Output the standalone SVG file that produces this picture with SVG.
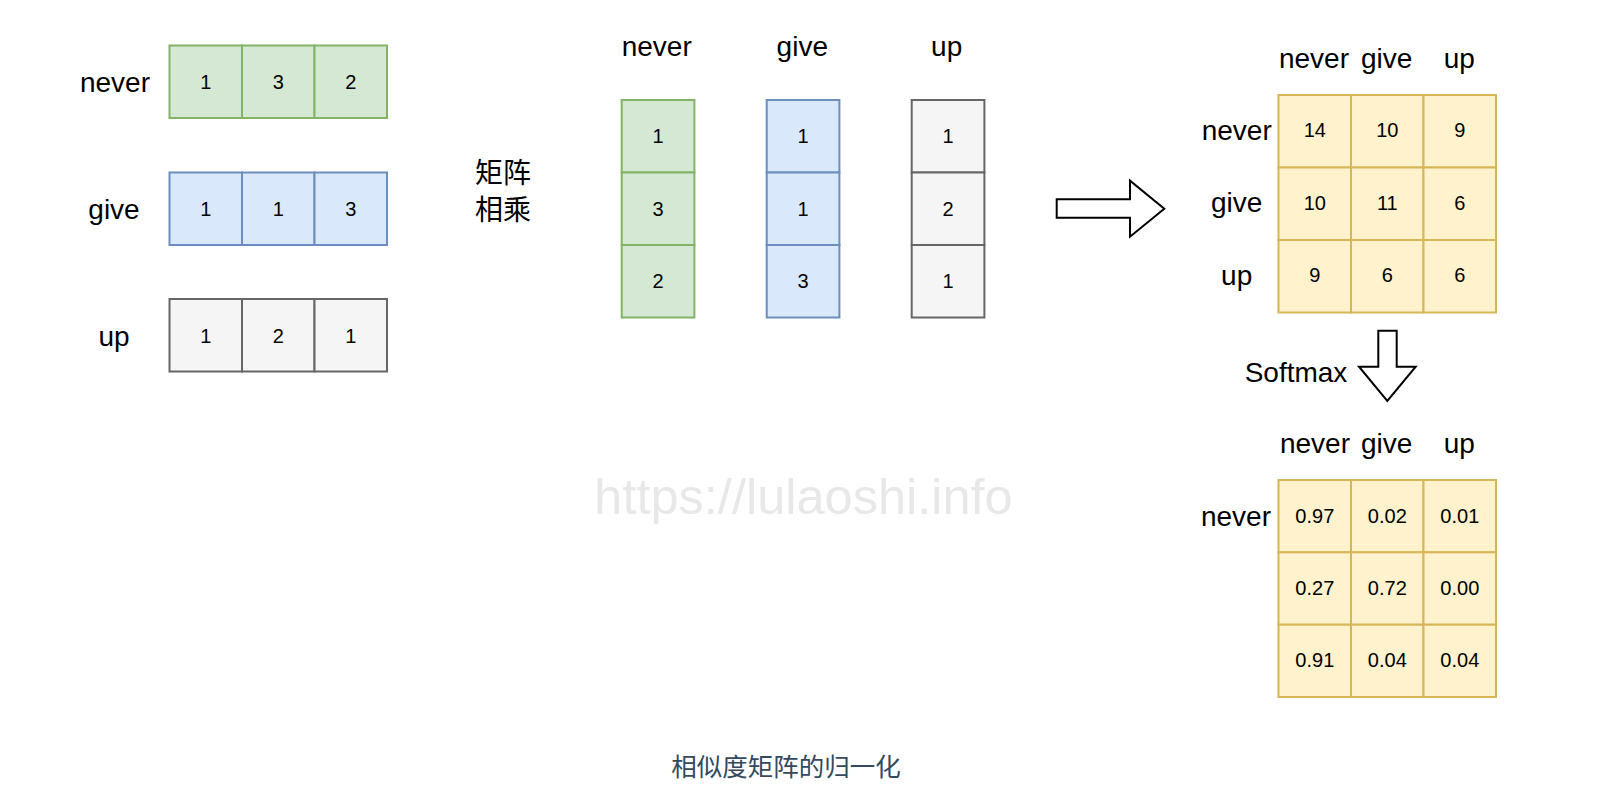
<svg xmlns="http://www.w3.org/2000/svg" width="1601" height="809" viewBox="0 0 1601 809">
<style>
.lbl{font-family:"Liberation Sans",Arial,sans-serif;font-size:28px;fill:#000;text-anchor:middle}
.num{font-family:"Liberation Sans",Arial,sans-serif;font-size:20px;fill:#000;text-anchor:middle}
.g{fill:#d5e8d4;stroke:#82b366;stroke-width:2}
.b{fill:#dae8fc;stroke:#6c8ebf;stroke-width:2}
.k{fill:#f5f5f5;stroke:#666666;stroke-width:2}
.y{fill:#fff2cc;stroke:#d6b656;stroke-width:2}
.cjk{font-family:"Liberation Sans","Noto Sans CJK SC",sans-serif;font-size:28px;fill:#000}
.arrow{fill:#fff;stroke:#000;stroke-width:2}
</style>
<rect width="1601" height="809" fill="#fff"/>

<text x="803.5" y="513.5" style="font-family:'Liberation Sans',Arial,sans-serif;font-size:50.5px;fill:#e8e8e8;text-anchor:middle">https://lulaoshi.info</text>

<g id="row-never">
<text class="lbl" x="115" y="92">never</text>
<rect class="g" x="169.5" y="45.5" width="72.5" height="72.5"/>
<rect class="g" x="242" y="45.5" width="72.5" height="72.5"/>
<rect class="g" x="314.5" y="45.5" width="72.5" height="72.5"/>
<text class="num" x="205.8" y="89">1</text>
<text class="num" x="278.3" y="89">3</text>
<text class="num" x="350.8" y="89">2</text>
</g>
<g id="row-give">
<text class="lbl" x="114" y="219">give</text>
<rect class="b" x="169.5" y="172.5" width="72.5" height="72.5"/>
<rect class="b" x="242" y="172.5" width="72.5" height="72.5"/>
<rect class="b" x="314.5" y="172.5" width="72.5" height="72.5"/>
<text class="num" x="205.8" y="216">1</text>
<text class="num" x="278.3" y="216">1</text>
<text class="num" x="350.8" y="216">3</text>
</g>
<g id="row-up">
<text class="lbl" x="114" y="345.5">up</text>
<rect class="k" x="169.5" y="299" width="72.5" height="72.5"/>
<rect class="k" x="242" y="299" width="72.5" height="72.5"/>
<rect class="k" x="314.5" y="299" width="72.5" height="72.5"/>
<text class="num" x="205.8" y="342.5">1</text>
<text class="num" x="278.3" y="342.5">2</text>
<text class="num" x="350.8" y="342.5">1</text>
</g>

<g id="matmul-label">
<text class="cjk" x="475" y="183">矩阵</text>
<text class="cjk" x="475" y="220">相乘</text>
</g>

<g id="col-never">
<text class="lbl" x="656.7" y="56">never</text>
<rect class="g" x="621.7" y="100" width="72.7" height="72.5"/>
<rect class="g" x="621.7" y="172.5" width="72.7" height="72.5"/>
<rect class="g" x="621.7" y="245" width="72.7" height="72.5"/>
<text class="num" x="658" y="143.3">1</text>
<text class="num" x="658" y="215.8">3</text>
<text class="num" x="658" y="288.3">2</text>
</g>
<g id="col-give">
<text class="lbl" x="802.3" y="56">give</text>
<rect class="b" x="766.7" y="100" width="72.7" height="72.5"/>
<rect class="b" x="766.7" y="172.5" width="72.7" height="72.5"/>
<rect class="b" x="766.7" y="245" width="72.7" height="72.5"/>
<text class="num" x="803" y="143.3">1</text>
<text class="num" x="803" y="215.8">1</text>
<text class="num" x="803" y="288.3">3</text>
</g>
<g id="col-up">
<text class="lbl" x="946.7" y="56">up</text>
<rect class="k" x="911.7" y="100" width="72.7" height="72.5"/>
<rect class="k" x="911.7" y="172.5" width="72.7" height="72.5"/>
<rect class="k" x="911.7" y="245" width="72.7" height="72.5"/>
<text class="num" x="948" y="143.3">1</text>
<text class="num" x="948" y="215.8">2</text>
<text class="num" x="948" y="288.3">1</text>
</g>

<g id="connectors">
<polygon class="arrow" points="1056.7,199.3 1130,199.3 1130,180.7 1164.3,208.7 1130,236.7 1130,217.7 1056.7,217.7"/>
<polygon class="arrow" points="1378.3,330.7 1396.7,330.7 1396.7,366.7 1415.7,366.7 1387.3,401 1359,366.7 1378.3,366.7"/>
</g>

<g id="softmax-label">
<text class="lbl" x="1296" y="381.5">Softmax</text>
</g>

<g id="similarity-matrix">
<text class="lbl" x="1314" y="68.3">never</text>
<text class="lbl" x="1386.7" y="68.3">give</text>
<text class="lbl" x="1459.3" y="68.3">up</text>
<text class="lbl" x="1236.7" y="140">never</text>
<text class="lbl" x="1236.7" y="212">give</text>
<text class="lbl" x="1236.7" y="285">up</text>
<rect class="y" x="1278.5" y="95" width="72.5" height="72.5"/>
<rect class="y" x="1351" y="95" width="72.5" height="72.5"/>
<rect class="y" x="1423.5" y="95" width="72.5" height="72.5"/>
<rect class="y" x="1278.5" y="167.5" width="72.5" height="72.5"/>
<rect class="y" x="1351" y="167.5" width="72.5" height="72.5"/>
<rect class="y" x="1423.5" y="167.5" width="72.5" height="72.5"/>
<rect class="y" x="1278.5" y="240" width="72.5" height="72.5"/>
<rect class="y" x="1351" y="240" width="72.5" height="72.5"/>
<rect class="y" x="1423.5" y="240" width="72.5" height="72.5"/>
<text class="num" x="1314.8" y="137">14</text>
<text class="num" x="1387.3" y="137">10</text>
<text class="num" x="1459.8" y="137">9</text>
<text class="num" x="1314.8" y="209.5">10</text>
<text class="num" x="1387.3" y="209.5">11</text>
<text class="num" x="1459.8" y="209.5">6</text>
<text class="num" x="1314.8" y="282">9</text>
<text class="num" x="1387.3" y="282">6</text>
<text class="num" x="1459.8" y="282">6</text>
</g>

<g id="softmax-matrix">
<text class="lbl" x="1315" y="453.3">never</text>
<text class="lbl" x="1386.7" y="453.3">give</text>
<text class="lbl" x="1459.3" y="453.3">up</text>
<text class="lbl" x="1236" y="526">never</text>
<rect class="y" x="1278.5" y="480" width="72.5" height="72.3"/>
<rect class="y" x="1351" y="480" width="72.5" height="72.3"/>
<rect class="y" x="1423.5" y="480" width="72.5" height="72.3"/>
<rect class="y" x="1278.5" y="552.3" width="72.5" height="72.4"/>
<rect class="y" x="1351" y="552.3" width="72.5" height="72.4"/>
<rect class="y" x="1423.5" y="552.3" width="72.5" height="72.4"/>
<rect class="y" x="1278.5" y="624.7" width="72.5" height="72.3"/>
<rect class="y" x="1351" y="624.7" width="72.5" height="72.3"/>
<rect class="y" x="1423.5" y="624.7" width="72.5" height="72.3"/>
<text class="num" x="1314.8" y="522.5">0.97</text>
<text class="num" x="1387.3" y="522.5">0.02</text>
<text class="num" x="1459.8" y="522.5">0.01</text>
<text class="num" x="1314.8" y="594.8">0.27</text>
<text class="num" x="1387.3" y="594.8">0.72</text>
<text class="num" x="1459.8" y="594.8">0.00</text>
<text class="num" x="1314.8" y="667.2">0.91</text>
<text class="num" x="1387.3" y="667.2">0.04</text>
<text class="num" x="1459.8" y="667.2">0.04</text>
</g>

<g id="caption">
<text x="786" y="776" style="font-family:'Liberation Sans','Noto Sans CJK SC',sans-serif;font-size:25.5px;fill:#34495e;text-anchor:middle">相似度矩阵的归一化</text>
</g>
</svg>
